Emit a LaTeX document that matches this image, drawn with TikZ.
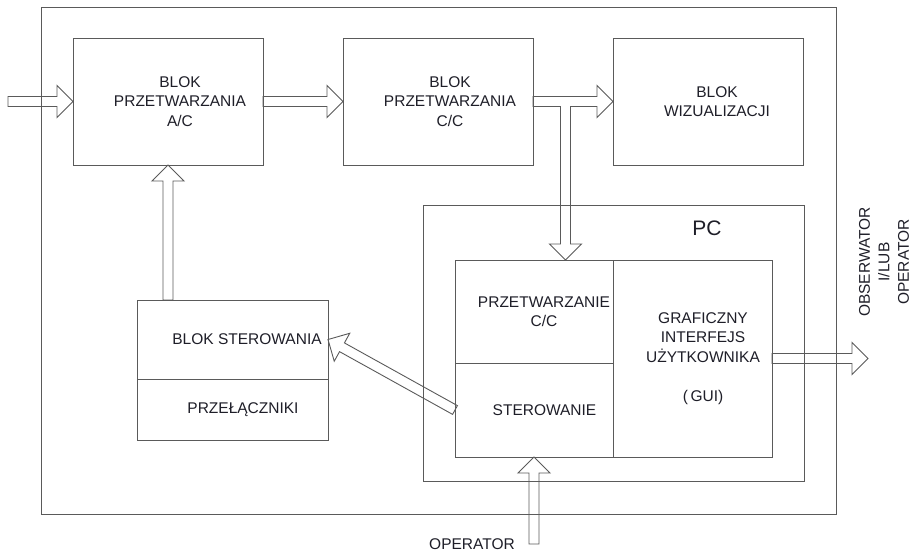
\documentclass[tikz,border=0pt]{standalone}
\usepackage{fontspec}
\setmainfont{Liberation Sans}
\usetikzlibrary{calc,backgrounds}
\definecolor{linegray}{HTML}{5A5A5A}
\definecolor{textgray}{HTML}{1E1E28}
\tikzset{
box/.style={
 draw=linegray,
 line width=0.9pt,
 inner sep=0pt,
 outer sep=0pt
 },
txt/.style={
 font=\fontsize{15.5}{19.5}\selectfont,
 text=textgray,
 align=center,
 inner sep=0pt
 },
BlokStrzalka/.style={
 draw=linegray,
 line width=0.9pt,
 to path={
  let \p1=(\tikztostart), \p2=(\tikztotarget),
  \n1={atan2(\y2-\y1,\x2-\x1)}, \n2={veclen(\x2-\x1,\y2-\y1)} in
  {[shift={(\p1)},rotate=\n1,x=1pt,y=1pt]
  (0,5) -- (\n2-16,5) -- (\n2-16,16) -- (\n2,0) -- (\n2-16,-16) -- (\n2-16,-5) -- (0,-5) -- cycle}
  }
 },
OtwartaStrzalka/.style={
 draw=linegray,
 fill=white,
 line width=0.9pt,
 to path={
  let \p1=(\tikztostart), \p2=(\tikztotarget),
  \n1={atan2(\y2-\y1,\x2-\x1)}, \n2={veclen(\x2-\x1,\y2-\y1)} in
  {[shift={(\p1)},rotate=\n1,x=1pt,y=1pt]
  (0,5) -- (\n2-16,5) -- (\n2-16,16) -- (\n2,0) -- (\n2-16,-16) -- (\n2-16,-5) -- (0,-5)}
  }
 }
}
\begin{document}
\begin{tikzpicture}[x=1pt,y=-1pt]
\useasboundingbox (0,0) rectangle (912,552);
\draw[box] (41,7.5) rectangle (836,514);
\node[box,minimum width=190,minimum height=127,label={[txt,xshift=12]center:{BLOK\\PRZETWARZANIA\\A/C}}] (ac) at (168,101.5) {};
\node[box,minimum width=190,minimum height=127,label={[txt,xshift=12]center:{BLOK\\PRZETWARZANIA\\C/C}}] (cc) at (438,101.5) {};
\node[box,minimum width=190,minimum height=127,label={[txt,xshift=9]center:{BLOK\\WIZUALIZACJI}}] (wiz) at (708,101.5) {};
\node[box,minimum width=381,minimum height=276] (pc) at (613.5,343) {};
\node[txt,font=\fontsize{21}{24}\selectfont] (pclab) at (707,228) {PC};
\node[box,minimum width=158,minimum height=103,label={[txt,xshift=10]center:{PRZETWARZANIE\\C/C}}] (przetw) at (534,311.5) {};
\node[box,minimum width=158,minimum height=94,label={[txt,xshift=10.5]center:{STEROWANIE}}] (sterow) at (534,410) {};
\node[box,minimum width=159,minimum height=197,label={[txt,xshift=10.5]center:{GRAFICZNY\\INTERFEJS\\UŻYTKOWNIKA\\[20pt](\,GUI)}}] (gui) at (692.5,358.5) {};
\node[box,minimum width=191,minimum height=79,label={[txt,xshift=14.5]center:{BLOK STEROWANIA}}] (bs) at (232.5,339.5) {};
\node[box,minimum width=191,minimum height=61,label={[txt,xshift=10.5]center:{PRZEŁĄCZNIKI}}] (prz) at (232.5,409.5) {};
\coordinate (wej) at (8,101.5);
\coordinate (rozgal) at (565.5,106);
\coordinate (wyj) at (868,358.5);
\coordinate (op) at (534,544);
\node[txt,rotate=90] (obs) at (884,262) {OBSERWATOR\\I/LUB\\OPERATOR};
\node[txt] (oplab) at (472,544) {OPERATOR};
\begin{scope}[on background layer]
\draw[BlokStrzalka] (wej) to (ac.west);
\draw[BlokStrzalka] (ac.east) to (cc.west);
\draw[BlokStrzalka] (cc.east) to (wiz.west);
\draw[OtwartaStrzalka] (rozgal) to (rozgal |- przetw.north);
\draw[BlokStrzalka] (ac.south |- bs.north) to (ac.south);
\draw[BlokStrzalka] (sterow.west) to (bs.east);
\draw[BlokStrzalka] (gui.east) to (wyj);
\draw[BlokStrzalka] (op) to (sterow.south);
\end{scope}
\end{tikzpicture}
\end{document}
